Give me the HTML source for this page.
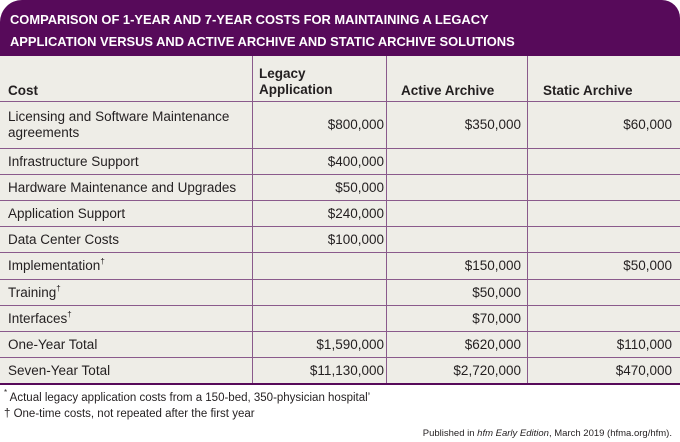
<!DOCTYPE html>
<html><head><style>
body{margin:0;width:680px;height:442px;background:#fff;font-family:"Liberation Sans",sans-serif;position:relative;overflow:hidden;color:#231f20}
.hd{position:absolute;left:0;top:0;width:680px;height:56px;background:#570a5a;border-top-left-radius:22px;border-top-right-radius:18px;color:#fff;font-weight:bold;font-size:12.9px;line-height:22px;padding:9px 0 0 10px;box-sizing:border-box;white-space:nowrap}
.tb{position:absolute;left:0;top:56px;width:680px;height:327px;background:#eeede7;border-bottom:2px solid #570a5a}
.h{position:absolute;height:1px;left:0;width:680px;background:#8a5a8c}
.v{position:absolute;width:1px;top:56px;height:327px;background:#8a5a8c}
.t{position:absolute;font-size:13.5px;white-space:nowrap;line-height:16px}
.r{text-align:right}
.b{font-weight:bold;font-size:13.5px}
sup{font-size:8px;vertical-align:6px;line-height:0}
.f{position:absolute;font-size:11.5px;white-space:nowrap}
</style></head><body>
<div class="hd">COMPARISON OF 1-YEAR AND 7-YEAR COSTS FOR MAINTAINING A LEGACY<br>APPLICATION VERSUS AND ACTIVE ARCHIVE AND STATIC ARCHIVE SOLUTIONS</div>
<div class="tb"></div>
<div class="h" style="top:101px"></div>
<div class="h" style="top:148px"></div>
<div class="h" style="top:174px"></div>
<div class="h" style="top:200px"></div>
<div class="h" style="top:226px"></div>
<div class="h" style="top:252px"></div>
<div class="h" style="top:279px"></div>
<div class="h" style="top:305px"></div>
<div class="h" style="top:331px"></div>
<div class="h" style="top:357px"></div>
<div class="v" style="left:252px"></div>
<div class="v" style="left:386px"></div>
<div class="v" style="left:527px"></div>

<div class="t b" style="left:8px;top:83px">Cost</div>
<div class="t b" style="left:259px;top:66px">Legacy<br>Application</div>
<div class="t b" style="left:401px;top:83px">Active Archive</div>
<div class="t b" style="left:543px;top:83px">Static Archive</div>

<div class="t" style="left:8px;top:109px">Licensing and Software Maintenance<br>agreements</div>
<div class="t" style="left:8px;top:154px">Infrastructure Support</div>
<div class="t" style="left:8px;top:180px">Hardware Maintenance and Upgrades</div>
<div class="t" style="left:8px;top:206px">Application Support</div>
<div class="t" style="left:8px;top:232px">Data Center Costs</div>
<div class="t" style="left:8px;top:258px">Implementation<sup>†</sup></div>
<div class="t" style="left:8px;top:285px">Training<sup>†</sup></div>
<div class="t" style="left:8px;top:311px">Interfaces<sup>†</sup></div>
<div class="t" style="left:8px;top:337px">One-Year Total</div>
<div class="t" style="left:8px;top:363px">Seven-Year Total</div>

<div class="t r" style="right:296px;top:117px">$800,000</div>
<div class="t r" style="right:296px;top:154px">$400,000</div>
<div class="t r" style="right:296px;top:180px">$50,000</div>
<div class="t r" style="right:296px;top:206px">$240,000</div>
<div class="t r" style="right:296px;top:232px">$100,000</div>
<div class="t r" style="right:296px;top:337px">$1,590,000</div>
<div class="t r" style="right:296px;top:363px">$11,130,000</div>

<div class="t r" style="right:159px;top:117px">$350,000</div>
<div class="t r" style="right:159px;top:258px">$150,000</div>
<div class="t r" style="right:159px;top:285px">$50,000</div>
<div class="t r" style="right:159px;top:311px">$70,000</div>
<div class="t r" style="right:159px;top:337px">$620,000</div>
<div class="t r" style="right:159px;top:363px">$2,720,000</div>

<div class="t r" style="right:8px;top:117px">$60,000</div>
<div class="t r" style="right:8px;top:258px">$50,000</div>
<div class="t r" style="right:8px;top:337px">$110,000</div>
<div class="t r" style="right:8px;top:363px">$470,000</div>

<div class="f" style="left:4px;top:392px"><sup>*</sup> Actual legacy application costs from a 150-bed, 350-physician hospital’</div>
<div class="f" style="left:4px;top:408px">† One-time costs, not repeated after the first year</div>
<div class="f" style="right:8px;top:428px;font-size:9.5px">Published in <i>hfm Early Edition</i>, March 2019 (hfma.org/hfm).</div>
</body></html>
